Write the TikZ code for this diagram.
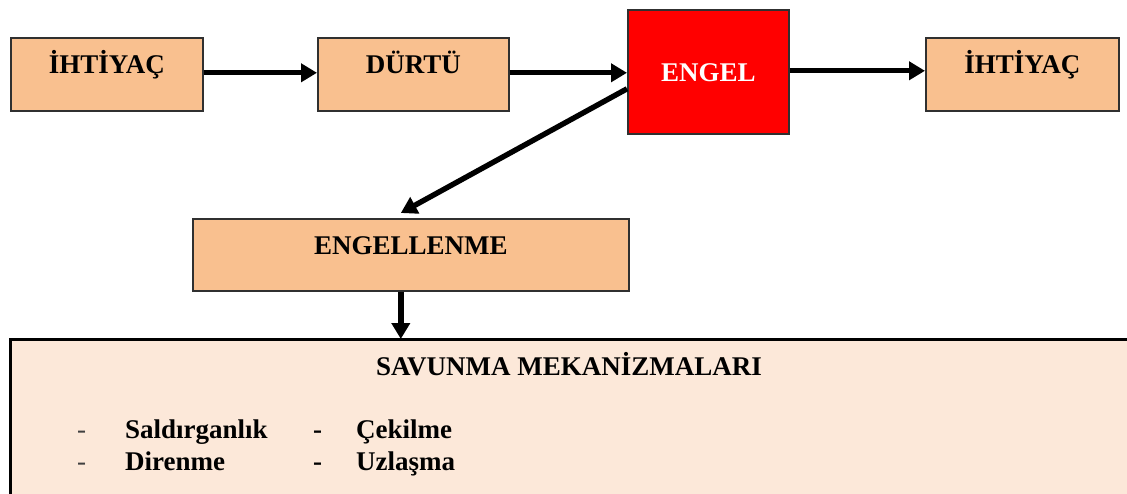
\documentclass[tikz,border=0pt]{standalone}
\usepackage{fontspec}
\setmainfont{Liberation Serif}
\usetikzlibrary{arrows.meta}
\definecolor{peach}{HTML}{F9C08F}
\definecolor{lightpeach}{HTML}{FCE8D9}
\definecolor{boxline}{HTML}{303030}
\tikzset{
  box/.style={draw=boxline, line width=1.6pt, fill=peach, inner sep=0pt,
    anchor=north west, align=center,
    font=\fontsize{27pt}{31pt}\selectfont\bfseries},
  txt/.style={inner sep=0pt, font=\fontsize{27pt}{31pt}\selectfont\bfseries},
  conn/.style={line width=5.4pt, -{Triangle[length=16pt,width=18pt]}}
}
\begin{document}
\begin{tikzpicture}[x=1pt,y=-1pt]
\useasboundingbox (0,0) rectangle (1127,494);
\clip (0,0) rectangle (1127,494);
\node[box, minimum width=192pt, text height=36pt, text depth=37pt] (b1) at (10,37) {İHTİYAÇ};
\node[box, minimum width=191pt, text height=36pt, text depth=37pt] (b2) at (317,37) {DÜRTÜ};
\node[box, fill=red, text=white, minimum width=161pt, text height=72pt, text depth=52pt] (engel) at (627,9) {ENGEL};
\node[box, minimum width=193pt, text height=36pt, text depth=37pt] (b4) at (925,37) {İHTİYAÇ};
\node[box, minimum width=436pt, text height=36pt, text depth=36pt] (engl) at (192,218) {ENGELLENME};
\node[box, draw=black, line width=2.6pt, fill=lightpeach, minimum width=1140pt, minimum height=200pt] (sav) at (9,338) {};
\node[txt, anchor=base] (head) at (569,375) {SAVUNMA MEKANİZMALARI};
\node[txt, anchor=base west, font=\fontsize{27pt}{31pt}\selectfont\mdseries, text=black!75] (d1) at (77,438) {-};
\node[txt, anchor=base west] (i1) at (125,438) {Saldırganlık};
\node[txt, anchor=base west] (d2) at (313,438) {-};
\node[txt, anchor=base west] (i2) at (356,438) {Çekilme};
\node[txt, anchor=base west, font=\fontsize{27pt}{31pt}\selectfont\mdseries, text=black!75] (d3) at (77,470) {-};
\node[txt, anchor=base west] (i3) at (125,470) {Direnme};
\node[txt, anchor=base west] (d4) at (313,470) {-};
\node[txt, anchor=base west] (i4) at (356,470) {Uzlaşma};
\draw[conn] ([yshift=1.5pt]b1.east) -- ([yshift=1.5pt]b2.west);
\draw[conn] ([yshift=1.5pt]b2.east) -- ([yshift=1.5pt]b2.east -| engel.west);
\draw[conn] ([yshift=1pt]engel.east) -- ([yshift=1pt]engel.east -| b4.west);
\draw[conn] ([yshift=-17pt]engel.west) -- ([xshift=-10pt,yshift=5pt]engl.north);
\draw[conn] ([xshift=-10pt]engl.south) -- ([xshift=-10pt,yshift=-1pt]engl.south |- sav.north);
\end{tikzpicture}
\end{document}
